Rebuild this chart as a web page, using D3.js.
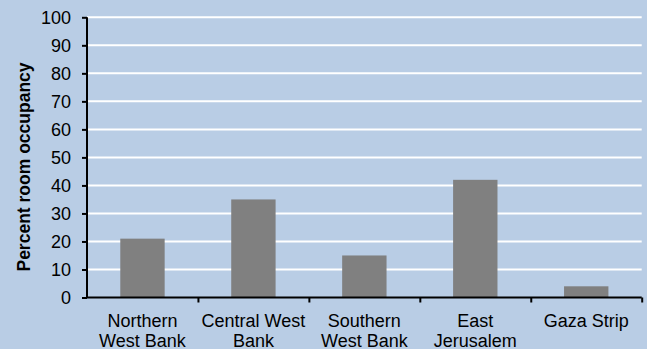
<!DOCTYPE html>
<html>
<head>
<meta charset="utf-8">
<script src="https://cdn.jsdelivr.net/npm/d3@7/dist/d3.min.js"></script>
<style>
  html, body { margin: 0; padding: 0; background: #b9cde5; }
  svg { display: block; }
  text { font-family: "Liberation Sans", Arial, sans-serif; fill: #000; }
</style>
</head>
<body>
<svg id="chart" width="647" height="349"></svg>
<script>
// Room occupancy by region
const categories = [
  ["Northern", "West Bank"],
  ["Central West", "Bank"],
  ["Southern", "West Bank"],
  ["East", "Jerusalem"],
  ["Gaza Strip"]
];
const occupancy = [21, 35, 15, 42, 4];
const yTicks = [0, 10, 20, 30, 40, 50, 60, 70, 80, 90, 100];
const yTitle = "Percent room occupancy";

(function () {
const W = 647, H = 349;
const plotLeft = 87, plotRight = 641.7, plotTop = 17.3, plotBottom = 297.5;

const svg = d3.select("#chart");
svg.append("rect").attr("width", W).attr("height", H).attr("fill", "#b9cde5");

const keys = categories.map((c, i) => i);
const x = d3.scaleBand().domain(keys).range([plotLeft, plotRight])
  .paddingInner(0.6).paddingOuter(0.3);
const y = d3.scaleLinear().domain([0, 100]).range([plotBottom, plotTop]);

// horizontal gridlines
svg.append("g").selectAll("line").data(yTicks.filter(v => v > 0)).join("line")
  .attr("x1", plotLeft).attr("x2", plotRight)
  .attr("y1", d => y(d)).attr("y2", d => y(d))
  .attr("stroke", "#ffffff").attr("stroke-width", 2);

// bars
svg.append("g").selectAll("rect").data(occupancy).join("rect")
  .attr("x", (d, i) => x(i))
  .attr("width", x.bandwidth())
  .attr("y", d => y(d))
  .attr("height", d => y(0) - y(d))
  .attr("fill", "#808080");

// y axis
const yAxis = svg.append("g").attr("transform", `translate(${plotLeft},0)`)
  .call(d3.axisLeft(y).tickValues(yTicks).tickSize(5).tickPadding(11));
yAxis.select(".domain").attr("stroke", "#000").attr("stroke-width", 2)
  .attr("d", `M0,${plotTop}V${plotBottom}`);
yAxis.selectAll(".tick line").attr("stroke", "#000").attr("stroke-width", 2);
yAxis.selectAll(".tick text").attr("font-size", 18)
  .attr("font-family", "Liberation Sans, Arial, sans-serif").attr("fill", "#000");

// x axis: ticks on category boundaries
const bounds = d3.scaleLinear().domain([0, categories.length]).range([plotLeft, plotRight]);
const xAxis = svg.append("g").attr("transform", `translate(0,${plotBottom})`)
  .call(d3.axisBottom(bounds).ticks(categories.length).tickSize(5).tickFormat(""));
xAxis.select(".domain").attr("stroke", "#000").attr("stroke-width", 2)
  .attr("d", `M${plotLeft},0H${plotRight}`);
xAxis.selectAll(".tick line").attr("stroke", "#000").attr("stroke-width", 2);
xAxis.selectAll(".tick").filter(d => d === 0).remove();

// category labels
const labels = svg.append("g");
categories.forEach((lines, i) => {
  const cx = x(i) + x.bandwidth() / 2;
  const t = labels.append("text")
    .attr("x", cx)
    .attr("y", 327)
    .attr("text-anchor", "middle")
    .attr("font-size", 18);
  lines.forEach((ln, j) => {
    t.append("tspan").attr("x", cx)
      .attr("dy", j === 0 ? 0 : 20).text(ln);
  });
});

// y axis title
svg.append("text")
  .attr("transform", `translate(30,167) rotate(-90)`)
  .attr("text-anchor", "middle")
  .attr("font-size", 17.5)
  .attr("font-weight", "bold")
  .text(yTitle);
})();
</script>
</body>
</html>
